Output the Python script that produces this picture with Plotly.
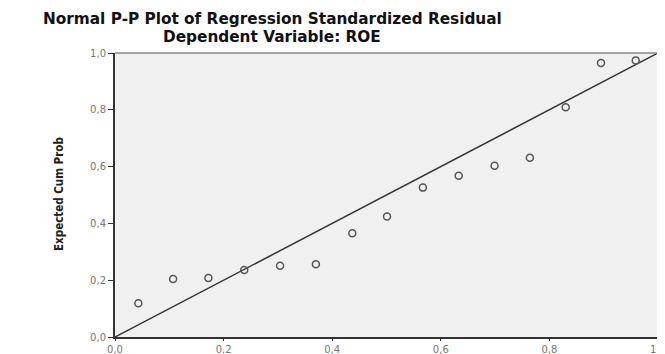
import plotly.graph_objects as go

observed = [0.043, 0.107, 0.172, 0.238, 0.304, 0.370, 0.437, 0.501,
            0.567, 0.633, 0.699, 0.764, 0.830, 0.895, 0.959]
expected = [0.119, 0.204, 0.208, 0.236, 0.251, 0.256, 0.365, 0.424,
            0.526, 0.568, 0.603, 0.631, 0.809, 0.965, 0.974]
ref_line = [0.0, 1.0]
tick_vals = [0.0, 0.2, 0.4, 0.6, 0.8, 1.0]
tick_text = ["0,0", "0,2", "0,4", "0,6", "0,8", "1,0"]
title1 = "Normal P-P Plot of Regression Standardized Residual"
title2 = "Dependent Variable: ROE"
y_title = "Expected Cum Prob"

fig = go.Figure()
fig.add_trace(go.Scatter(x=ref_line, y=ref_line, mode="lines",
                         line=dict(color="#333333", width=1.5),
                         hoverinfo="skip", showlegend=False))
fig.add_trace(go.Scatter(x=observed, y=expected, mode="markers",
                         marker=dict(symbol="circle-open", size=7,
                                     color="#555555", line=dict(width=1.5)),
                         showlegend=False))

OFF = 8  # default page body margin
W, H = 665 - OFF, 354 - OFF
L, R, T, B = 115 - OFF, 7, 53 - OFF, 17
pw = W - L - R
ph = H - T - B


def px_x(p):
    return (p - OFF - L) / pw


def px_y(p):
    return (H - B - (p - OFF)) / ph


axis_common = dict(range=[0, 1], tickvals=tick_vals, ticktext=tick_text,
                   ticks="outside", tickcolor="#333333", tickwidth=1,
                   tickfont=dict(size=10, color="#777777", family="DejaVu Sans, sans-serif"),
                   showgrid=False, zeroline=False, automargin=False,
                   ticklabeloverflow="allow",
                   showline=True, linecolor="#333333", linewidth=2, mirror=False)

fig.update_layout(
    width=W, height=H,
    margin=dict(l=L, r=R, t=T, b=B),
    paper_bgcolor="white",
    plot_bgcolor="#f0f0f0",
    font=dict(family="Liberation Sans, Arial, sans-serif", color="#555555"),
    xaxis=dict(axis_common, ticklen=2),
    yaxis=dict(axis_common, ticklen=5),
    shapes=[
        dict(type="line", xref="paper", yref="paper", x0=0, x1=1, y0=1, y1=1,
             line=dict(color="#888888", width=1.5)),
        dict(type="line", xref="paper", yref="paper", x0=1, x1=1, y0=0, y1=1,
             line=dict(color="#777777", width=2)),
    ],
    annotations=[
        dict(text="<b>" + title1 + "</b>", xref="paper", yref="paper",
             x=px_x(272), y=px_y(18.5),
             xanchor="center", yanchor="middle", showarrow=False,
             font=dict(size=15.3, color="#111111", family="DejaVu Sans, sans-serif")),
        dict(text="<b>" + title2 + "</b>", xref="paper", yref="paper",
             x=px_x(272), y=px_y(37.5),
             xanchor="center", yanchor="middle", showarrow=False,
             font=dict(size=15.3, color="#111111", family="DejaVu Sans, sans-serif")),
        dict(text="<b>" + y_title + "</b>", xref="paper", yref="paper",
             x=px_x(59), y=px_y(194),
             xanchor="center", yanchor="middle", textangle=-90, showarrow=False,
             font=dict(size=11.5, color="#222222",
                       family="DejaVu Sans Condensed, Liberation Sans Narrow, Liberation Sans, sans-serif")),
    ],
)

fig.write_html("out.html")
